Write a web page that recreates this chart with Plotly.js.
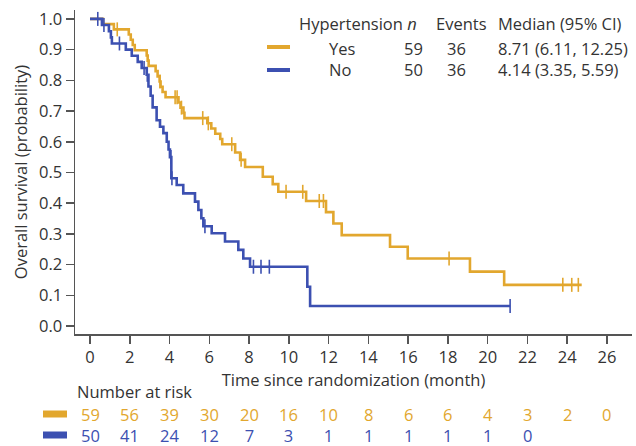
<!DOCTYPE html>
<html>
<head>
<meta charset="utf-8">
<script src="https://cdn.plot.ly/plotly-3.0.1.min.js"></script>
<style>html,body{margin:0;padding:0;background:#fff;}#chart{width:636px;height:446px;}</style>
</head>
<body>
<div id="chart"></div>
<script>
// ---- Data ----
const yesTimes = [0, 0.65, 1.2, 1.95, 2.05, 2.15, 2.25, 2.85, 2.9, 2.95, 3.3, 3.4, 3.5, 3.55, 3.65, 3.8, 4.45, 4.55, 4.7, 4.75, 5.9, 6.1, 6.3, 6.55, 6.65, 7.3, 7.55, 7.8, 8.69, 9.19, 9.47, 10.87, 11.87, 12.24, 12.66, 15.09, 15.98, 19.11, 20.83, 24.73];
const yesSurv  = [1.0, 0.983, 0.966, 0.949, 0.932, 0.915, 0.898, 0.881, 0.864, 0.847, 0.83, 0.813, 0.796, 0.779, 0.762, 0.745, 0.728, 0.711, 0.694, 0.677, 0.66, 0.643, 0.626, 0.609, 0.592, 0.565, 0.541, 0.518, 0.486, 0.462, 0.437, 0.407, 0.371, 0.334, 0.296, 0.258, 0.22, 0.177, 0.134, 0.134];
const yesCensor = [1.37, 3.52, 4.28, 4.38, 4.6, 5.67, 5.95, 7.13, 7.6, 9.86, 10.7, 11.53, 11.74, 18.06, 23.78, 24.23, 24.56];

const noTimes = [0, 0.6, 0.95, 1.05, 1.1, 1.8, 2.1, 2.4, 2.6, 2.85, 2.94, 3.05, 3.15, 3.35, 3.52, 3.69, 3.86, 3.95, 4.02, 4.09, 4.36, 4.69, 5.28, 5.45, 5.6, 5.7, 6.12, 6.79, 7.46, 7.71, 8.05, 10.93, 11.07, 21.13];
const noSurv  = [1.0, 0.98, 0.96, 0.94, 0.92, 0.90, 0.88, 0.86, 0.84, 0.818, 0.78, 0.75, 0.712, 0.67, 0.649, 0.628, 0.60, 0.575, 0.55, 0.481, 0.459, 0.432, 0.405, 0.378, 0.351, 0.325, 0.302, 0.275, 0.248, 0.22, 0.193, 0.128, 0.065, 0.065];
const noCensor = [0.39, 0.7, 1.48, 2.72, 2.88, 4.07, 4.12, 5.78, 8.22, 8.6, 9.02, 21.13];

const riskTimes = [0, 2, 4, 6, 8, 10, 12, 14, 16, 18, 20, 22, 24, 26];
const yesRisk = [59, 56, 39, 30, 20, 16, 10, 8, 6, 6, 4, 3, 2, 0];
const noRisk  = [50, 41, 24, 12, 7, 3, 1, 1, 1, 1, 1, 0];

const groupLabels = ['Yes', 'No'];
const groupN = [59, 50];
const groupEvents = [36, 36];
const groupMedian = ['8.71 (6.11, 12.25)', '4.14 (3.35, 5.59)'];

const xTicks = [0, 2, 4, 6, 8, 10, 12, 14, 16, 18, 20, 22, 24, 26];
const yTicks = [0, 0.1, 0.2, 0.3, 0.4, 0.5, 0.6, 0.7, 0.8, 0.9, 1.0];

// ---- Styling ----
const YEL = '#E2A72E';
const BLU = '#3C50B1';
const TXT = '#333333';
const AX = '#555555';
const FONT = 'Open Sans, DejaVu Sans, sans-serif';
const FS = 16.5;

function stepAt(times, surv, t) {
  let s = surv[0];
  for (let i = 0; i < times.length; i++) { if (times[i] <= t) s = surv[i]; }
  return s;
}

const W = 636, H = 446;
const M = {l: 75, r: 4, t: 10, b: 112};
const PW = W - M.l - M.r, PH = H - M.t - M.b;
const px = x => (x - M.l) / PW;     // pixel x -> paper
const py = y => (H - M.b - y) / PH; // pixel y -> paper

const traces = [
  {x: yesTimes, y: yesSurv, mode: 'lines', line: {shape: 'hv', color: YEL, width: 2.6}, hoverinfo: 'skip', showlegend: false},
  {x: noTimes, y: noSurv, mode: 'lines', line: {shape: 'hv', color: BLU, width: 2.6}, hoverinfo: 'skip', showlegend: false},
  {x: yesCensor, y: yesCensor.map(t => stepAt(yesTimes, yesSurv, t)), mode: 'markers',
   marker: {symbol: 'line-ns', size: 10, color: YEL, line: {color: YEL, width: 1.6}}, hoverinfo: 'skip', showlegend: false},
  {x: noCensor, y: noCensor.map(t => stepAt(noTimes, noSurv, t)), mode: 'markers',
   marker: {symbol: 'line-ns', size: 10, color: BLU, line: {color: BLU, width: 1.6}}, hoverinfo: 'skip', showlegend: false}
];

const ann = [];
const shapes = [];
const f = (c, s) => ({family: FONT, size: s || FS, color: c || TXT});

// Legend header
ann.push({xref: 'paper', yref: 'paper', x: px(297), y: py(24), xanchor: 'left', yanchor: 'middle', text: 'Hypertension <i>n</i>', showarrow: false, font: f()});
ann.push({xref: 'paper', yref: 'paper', x: px(434), y: py(24), xanchor: 'left', yanchor: 'middle', text: 'Events', showarrow: false, font: f()});
ann.push({xref: 'paper', yref: 'paper', x: px(496), y: py(24), xanchor: 'left', yanchor: 'middle', text: 'Median (95% CI)', showarrow: false, font: f()});
const rowY = [47, 70];
const cols = [YEL, BLU];
// legend body: one multi-line annotation per column (avoids overlapping boxes)
for (let i = 0; i < 2; i++) {
  shapes.push({type: 'line', xref: 'paper', yref: 'paper', x0: px(267), x1: px(290), y0: py(rowY[i]), y1: py(rowY[i]), line: {color: cols[i], width: 4}});
}
const legMid = (rowY[0] + rowY[1]) / 2;
const lsp = {family: FONT, size: FS * 0.93, color: TXT};
ann.push({xref: 'paper', yref: 'paper', x: px(327), y: py(legMid), xanchor: 'left', yanchor: 'middle', align: 'left', text: groupLabels.join('<br>'), showarrow: false, font: f()});
ann.push({xref: 'paper', yref: 'paper', x: px(413), y: py(legMid), xanchor: 'center', yanchor: 'middle', text: groupN.join('<br>'), showarrow: false, font: f()});
ann.push({xref: 'paper', yref: 'paper', x: px(457), y: py(legMid), xanchor: 'center', yanchor: 'middle', text: groupEvents.join('<br>'), showarrow: false, font: f()});
ann.push({xref: 'paper', yref: 'paper', x: px(496), y: py(legMid), xanchor: 'left', yanchor: 'middle', align: 'left', text: groupMedian.join('<br>'), showarrow: false, font: f()});

// Number at risk table
ann.push({xref: 'paper', yref: 'paper', x: px(75), y: py(392), xanchor: 'left', yanchor: 'middle', text: 'Number at risk', showarrow: false, font: f()});
const riskY = [414, 435];
for (let r = 0; r < 2; r++) {
  shapes.push({type: 'rect', xref: 'paper', yref: 'paper', x0: px(43), x1: px(67), y0: py(riskY[r] - 3.5), y1: py(riskY[r] + 3.5), fillcolor: cols[r], line: {width: 0}});
}
riskTimes.forEach((t, i) => {
  if (i < noRisk.length) {
    ann.push({xref: 'x', yref: 'paper', x: t, y: py((riskY[0] + riskY[1]) / 2), xanchor: 'center', yanchor: 'middle', showarrow: false, font: f(),
      text: '<span style="color:' + YEL + '">' + yesRisk[i] + '</span><br><span style="color:' + BLU + '">' + noRisk[i] + '</span>'});
  } else {
    ann.push({xref: 'x', yref: 'paper', x: t, y: py(riskY[0]), xanchor: 'center', yanchor: 'middle', showarrow: false, font: f(YEL), text: String(yesRisk[i])});
  }
});

const layout = {
  width: W, height: H,
  margin: M,
  paper_bgcolor: '#ffffff', plot_bgcolor: '#ffffff',
  font: {family: FONT, size: FS, color: TXT},
  showlegend: false,
  xaxis: {
    range: [-0.755, 27.26], tickvals: xTicks, ticktext: xTicks.map(String),
    ticks: 'outside', ticklen: 8, tickwidth: 1.5, tickcolor: AX,
    showline: true, linecolor: AX, linewidth: 1.5, showgrid: false, zeroline: false,
    tickfont: f(), automargin: false,
    title: {text: 'Time since randomization (month)', font: f(), standoff: 5}
  },
  yaxis: {
    range: [-0.026, 1.029], tickvals: yTicks, tickformat: '.1f',
    ticks: 'outside', ticklen: 8, tickwidth: 1.5, tickcolor: AX,
    showline: true, linecolor: AX, linewidth: 1.5, showgrid: false, zeroline: false,
    tickfont: f(), automargin: false,
    title: {text: 'Overall survival (probability)', font: f(), standoff: 7}
  },
  annotations: ann,
  shapes: shapes
};

Plotly.newPlot('chart', traces, layout, {staticPlot: true, displayModeBar: false});
</script>
</body>
</html>
